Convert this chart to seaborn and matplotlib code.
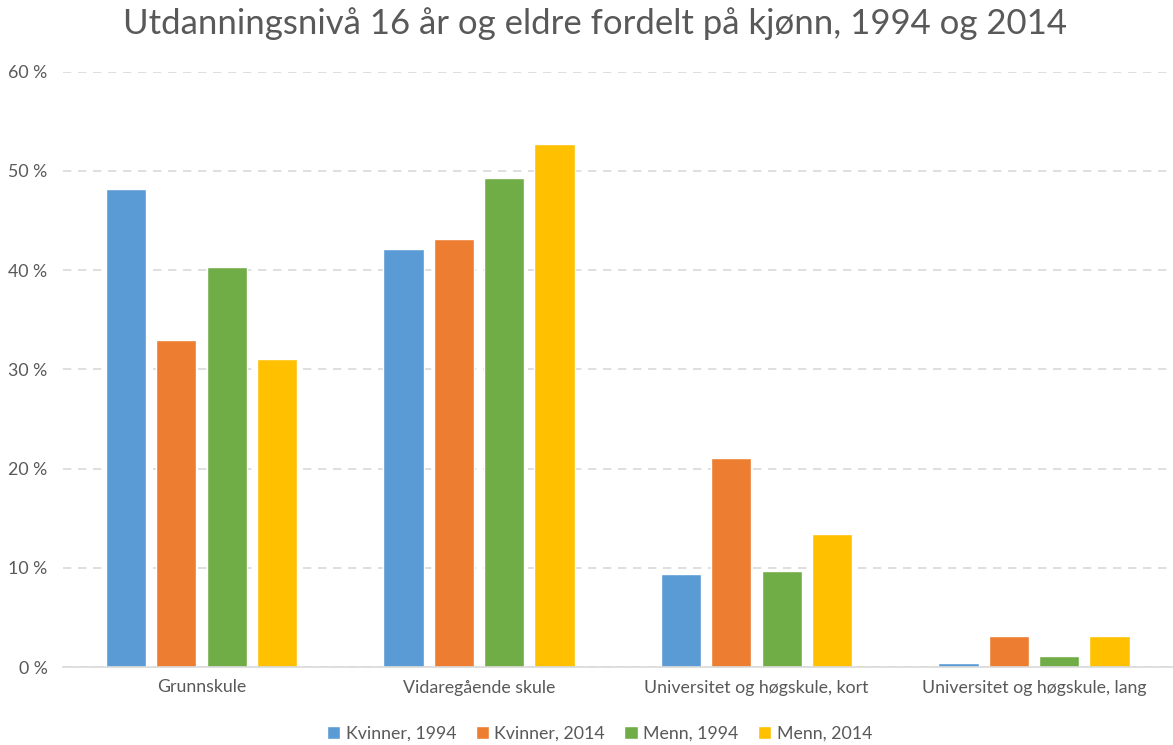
import pandas as pd
import seaborn as sns
import matplotlib.pyplot as plt
from matplotlib.ticker import FuncFormatter
from matplotlib.patches import Patch

categories = ["Grunnskule", "Vidaregående skule",
              "Universitet og høgskule, kort", "Universitet og høgskule, lang"]
series = ["Kvinner, 1994", "Kvinner, 2014", "Menn, 1994", "Menn, 2014"]
kvinner_1994 = [48.2, 42.1, 9.35, 0.37]
kvinner_2014 = [33.0, 43.1, 21.1, 3.1]
menn_1994 = [40.3, 49.3, 9.65, 1.15]
menn_2014 = [31.0, 52.7, 13.4, 3.1]
colors = ["#5B9BD5", "#ED7D31", "#70AD47", "#FFC000"]

rows = []
for name, vals in zip(series, [kvinner_1994, kvinner_2014, menn_1994, menn_2014]):
    for cat, v in zip(categories, vals):
        rows.append({"Kategori": cat, "Serie": name, "Andel": v})
df = pd.DataFrame(rows)

sns.set_style("white")
plt.rcParams['font.family'] = ['Lato', 'DejaVu Sans']
text_col = "#595959"

fig = plt.figure(figsize=(11.73, 7.45), dpi=100)
ax = fig.add_axes([62.75 / 1173, 1 - 667 / 745, 1110 / 1173, (667 - 71.7) / 745])

sns.barplot(data=df, x="Kategori", y="Andel", hue="Serie", order=categories,
            hue_order=series, palette=colors, width=0.725, gap=0.2,
            saturation=1, legend=False, ax=ax)

ax.set_ylim(0, 60)
ax.set_xlim(-0.5, 3.5)
ax.set_yticks(range(0, 61, 10))
ax.yaxis.set_major_formatter(FuncFormatter(lambda v, p: f"{int(v)} %"))
ax.grid(axis="y", color="#D9D9D9", linestyle=(0, (5, 4)), linewidth=1.2)
ax.set_axisbelow(True)
for s in ["top", "right", "left"]:
    ax.spines[s].set_visible(False)
ax.spines["bottom"].set_color("#D9D9D9")
ax.spines["bottom"].set_linewidth(1.2)
ax.tick_params(axis="both", length=0, labelsize=12.8, colors=text_col)
ax.tick_params(axis="y", pad=11)
ax.tick_params(axis="x", pad=9)
ax.set_xlabel("")
ax.set_ylabel("")

fig.text(0.507, 0.968, "Utdanningsnivå 16 år og eldre fordelt på kjønn, 1994 og 2014",
         ha="center", va="center", fontsize=25, color=text_col)

handles = [Patch(facecolor=c, label=s) for c, s in zip(colors, series)]
fig.legend(handles=handles, loc="center", bbox_to_anchor=(0.511, 0.015), ncol=4,
           frameon=False, fontsize=12.8, handlelength=0.75, handleheight=0.75,
           handletextpad=0.3, columnspacing=1.1, labelcolor=text_col)

fig.savefig("out.png", dpi=100)
